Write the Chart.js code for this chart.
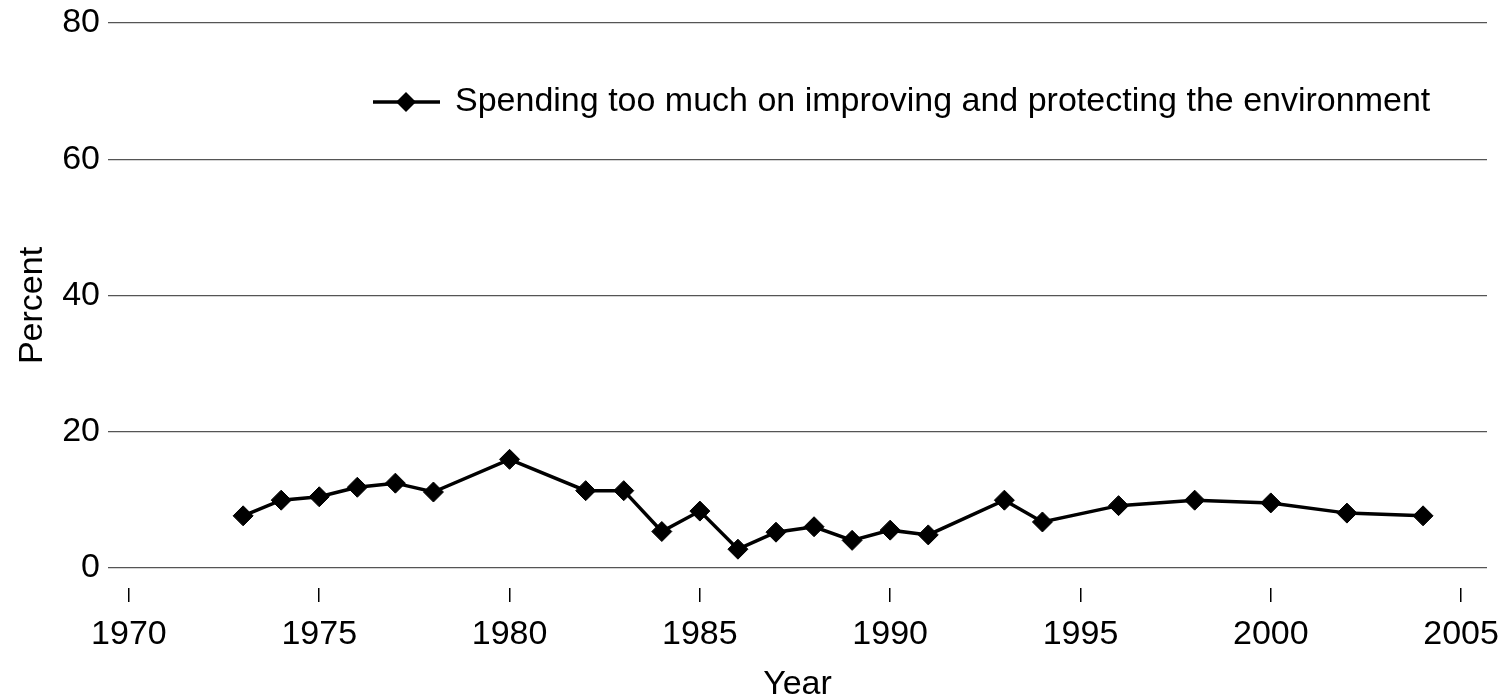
<!DOCTYPE html>
<html><head><meta charset="utf-8">
<script src="https://cdn.jsdelivr.net/npm/chart.js@4.4.1/dist/chart.umd.min.js"></script>
<style>html,body{margin:0;padding:0;background:#fff}#wrap{width:1508px;height:699px;position:relative}</style>
</head><body><div id="wrap"><canvas id="c" width="1508" height="699"></canvas></div>
<script>
const years = [1973,1974,1975,1976,1977,1978,1980,1982,1983,1984,1985,1986,1987,1988,1989,1990,1991,1993,1994,1996,1998,2000,2002,2004];
const tooMuch = [7.6,9.9,10.4,11.8,12.4,11.1,15.9,11.3,11.3,5.3,8.3,2.7,5.2,6.0,4.0,5.5,4.8,9.9,6.7,9.1,9.9,9.5,8.0,7.6];
const xTicks = [1970,1975,1980,1985,1990,1995,2000,2005];
const yTicks = [0,20,40,60,80];
const seriesLabel = 'Spending too much on improving and protecting the environment';
const FONT = 'Liberation Sans, Arial, sans-serif';
const FS = 34;

const legendPlugin = {
  id: 'innerLegend',
  afterDraw(chart) {
    const ctx = chart.ctx;
    const ds = chart.data.datasets[0];
    const y = 102;
    const x0 = 373, x1 = 440, xm = 406, r = 10;
    ctx.save();
    ctx.strokeStyle = ds.borderColor;
    ctx.lineWidth = ds.borderWidth;
    ctx.beginPath(); ctx.moveTo(x0, y); ctx.lineTo(x1, y); ctx.stroke();
    ctx.fillStyle = ds.pointBackgroundColor;
    ctx.beginPath();
    ctx.moveTo(xm - r, y); ctx.lineTo(xm, y - r); ctx.lineTo(xm + r, y); ctx.lineTo(xm, y + r); ctx.closePath();
    ctx.fill();
    ctx.fillStyle = '#000';
    ctx.font = FS + 'px ' + FONT;
    ctx.textBaseline = 'middle';
    ctx.textAlign = 'left';
    ctx.fillText(ds.label, 455, y);
    ctx.restore();
  }
};

new Chart(document.getElementById('c'), {
  type: 'line',
  data: {
    datasets: [{
      label: seriesLabel,
      data: years.map((y, i) => ({x: y, y: tooMuch[i]})),
      borderColor: '#000',
      borderWidth: 3.5,
      pointStyle: 'rectRot',
      pointRadius: 10,
      pointBackgroundColor: '#000',
      pointBorderColor: '#000',
      pointBorderWidth: 1,
      tension: 0,
      clip: false
    }]
  },
  options: {
    responsive: false,
    animation: false,
    events: [],
    layout: {padding: {top: 23, right: 21, left: 0, bottom: 0}},
    plugins: {legend: {display: false}, tooltip: {enabled: false}},
    scales: {
      x: {
        type: 'linear',
        min: 1969.45,
        max: 2005.68,
        afterBuildTicks: s => { s.ticks = xTicks.map(v => ({value: v})); },
        afterFit: s => { s.height = 111; s.paddingLeft = 0; s.paddingRight = 0; },
        grid: {drawOnChartArea: false, drawTicks: true, tickLength: 14, color: '#000', lineWidth: 1.5},
        border: {display: false},
        ticks: {font: {family: FONT, size: FS}, color: '#000', padding: 12, maxRotation: 0, callback: v => String(v)},
        title: {display: true, text: 'Year', font: {family: FONT, size: FS}, color: '#000', padding: {top: 0, bottom: -6}}
      },
      y: {
        min: -3,
        max: 80,
        afterBuildTicks: s => { s.ticks = yTicks.map(v => ({value: v})); },
        afterFit: s => { s.width = 108; s.paddingTop = 0; s.paddingBottom = 0; },
        grid: {color: '#555', lineWidth: 1.2, drawTicks: false},
        border: {display: false},
        ticks: {font: {family: FONT, size: FS}, color: '#000', padding: 8, callback: v => String(v)},
        title: {display: true, text: 'Percent', font: {family: FONT, size: FS}, color: '#000', padding: 12}
      }
    }
  },
  plugins: [legendPlugin]
});
</script>
</body></html>
